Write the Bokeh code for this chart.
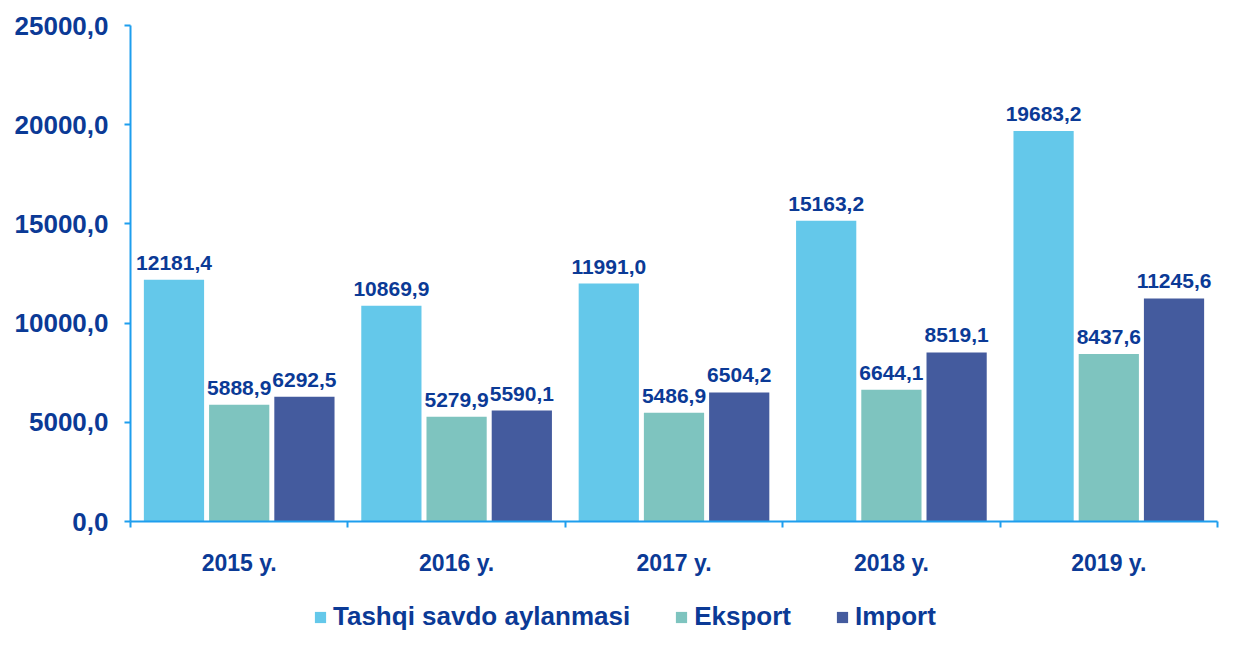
from bokeh.plotting import figure
from bokeh.layouts import column
from bokeh.models import (ColumnDataSource, FixedTicker, Legend, LegendItem,
                          Range1d)
from bokeh.core.properties import value
from bokeh.embed import file_html
from bokeh.resources import INLINE

# ---- data ----
years = ["2015 y.", "2016 y.", "2017 y.", "2018 y.", "2019 y."]
series_names = ["Tashqi savdo aylanmasi", "Eksport", "Import"]
turnover = [12181.4, 10869.9, 11991.0, 15163.2, 19683.2]
export = [5888.9, 5279.9, 5486.9, 6644.1, 8437.6]
imports = [6292.5, 5590.1, 6504.2, 8519.1, 11245.6]
y_ticks = [0, 5000, 10000, 15000, 20000, 25000]
y_tick_labels = ["0,0", "5000,0", "10000,0", "15000,0", "20000,0", "25000,0"]

colors = ["#64C8EA", "#7EC4BF", "#445B9E"]
text_color = "#0B3A96"
axis_color = "#1E9EEE"
FONT = "Liberation Sans"
W = 1219

p = figure(width=W, height=600, output_backend="svg", toolbar_location=None,
           x_range=Range1d(0, 5), y_range=Range1d(0, 25000),
           min_border_left=130, min_border_right=2, min_border_top=25,
           min_border_bottom=79)
p.outline_line_color = None
p.xgrid.visible = False
p.ygrid.visible = False
p.background_fill_color = "white"
p.border_fill_color = "white"

offsets = [-0.3, 0.0, 0.3]
bar_w = 0.277
centers = [i + 0.5 for i in range(len(years))]
series = [turnover, export, imports]
for vals, off, col in zip(series, offsets, colors):
    src = ColumnDataSource(dict(
        x=[c + off for c in centers],
        top=vals,
        lbl=[f"{v:.1f}".replace(".", ",") for v in vals],
    ))
    p.vbar(x="x", top="top", width=bar_w, source=src, fill_color=col,
           line_color=None)
    p.text(x="x", y="top", text="lbl", source=src, text_align="center",
           text_baseline="bottom", y_offset=-10,
           text_font=value(FONT), text_font_style="bold",
           text_font_size="21px", text_color=text_color)

# y axis
ya = p.yaxis[0]
ya.ticker = FixedTicker(ticks=y_ticks)
ya.major_label_overrides = {t: l for t, l in zip(y_ticks, y_tick_labels)}
ya.axis_line_color = axis_color
ya.axis_line_width = 2
ya.major_tick_line_color = axis_color
ya.major_tick_line_width = 2
ya.major_tick_in = 0
ya.major_tick_out = 6
ya.minor_tick_line_color = None
ya.major_label_standoff = 16
ya.major_label_text_font = FONT
ya.major_label_text_font_style = "bold"
ya.major_label_text_font_size = "26px"
ya.major_label_text_color = text_color

# x axis
xa = p.xaxis[0]
xa.ticker = FixedTicker(ticks=centers, minor_ticks=list(range(len(years) + 1)))
xa.major_label_overrides = {c: y for c, y in zip(centers, years)}
xa.axis_line_color = axis_color
xa.axis_line_width = 2
xa.major_tick_line_color = None
xa.major_tick_in = 0
xa.major_tick_out = 6
xa.minor_tick_line_color = axis_color
xa.minor_tick_line_width = 2
xa.minor_tick_in = 0
xa.minor_tick_out = 6
xa.major_label_standoff = 22
xa.major_label_text_font = FONT
xa.major_label_text_font_style = "bold"
xa.major_label_text_font_size = "23px"
xa.major_label_text_color = text_color

# ---- legend strip (hidden copies of the series supply the swatches) ----
lf = figure(width=W, height=32, output_backend="svg", toolbar_location=None,
            x_range=Range1d(0, 5), y_range=Range1d(0, 25000),
            x_axis_type=None, y_axis_type=None, min_border=0)
lf.outline_line_color = None
lf.xgrid.visible = False
lf.ygrid.visible = False
lrs = [lf.vbar(x=centers, top=vals, width=bar_w, fill_color=c,
               line_color=None, visible=False)
       for vals, c in zip(series, colors)]
legend = Legend(items=[LegendItem(label=n, renderers=[r])
                       for n, r in zip(series_names, lrs)],
                orientation="horizontal", location=(183, 0),
                glyph_width=14, glyph_height=14, label_standoff=6,
                spacing=44, padding=0, margin=0,
                inactive_fill_alpha=0,
                border_line_color=None, background_fill_alpha=0,
                label_text_font=FONT, label_text_font_style="bold",
                label_text_font_size="26px", label_text_color=text_color)
lf.add_layout(legend, "center")

open("out.html", "w").write(file_html(column(p, lf, spacing=0), INLINE))
